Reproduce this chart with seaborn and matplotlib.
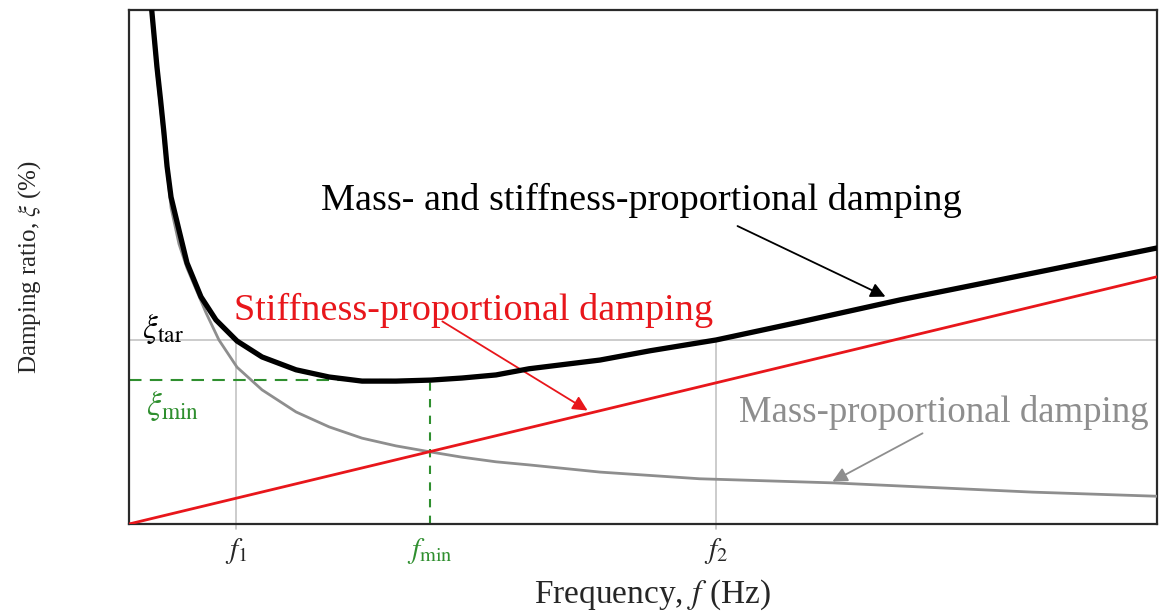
import numpy as np
import pandas as pd
import matplotlib
matplotlib.use("Agg")
import matplotlib.pyplot as plt
import seaborn as sns

# Frequency / damping-ratio samples for each damping component
freq_total = [0.21, 0.221, 0.272, 0.307, 0.340, 0.370, 0.409, 0.486, 0.564, 0.700,
              0.846, 1.051, 1.294, 1.625, 1.946, 2.267, 2.597, 2.938, 3.239, 3.570,
              3.891, 4.582, 5.068, 5.71, 6.527, 7.5, 8.47, 10.0]
xi_total = [10.3, 10.0, 8.89, 8.25, 7.61, 6.96, 6.36, 5.72, 5.08, 4.42,
            3.97, 3.56, 3.25, 3.00, 2.86, 2.78, 2.78, 2.80, 2.84, 2.90,
            3.02, 3.19, 3.37, 3.58, 3.93, 4.36, 4.75, 5.37]

freq_mass = [0.20, 0.221, 0.272, 0.340, 0.409, 0.486, 0.564, 0.613, 0.749, 0.875,
             1.051, 1.294, 1.625, 1.946, 2.267, 2.597, 2.938, 3.239, 3.570, 3.891,
             4.582, 5.55, 6.85, 7.82, 8.79, 10.0]
xi_mass = [10.3, 9.89, 8.76, 7.45, 6.15, 5.45, 4.98, 4.75, 4.11, 3.58,
           3.05, 2.61, 2.18, 1.89, 1.67, 1.52, 1.40, 1.30, 1.21, 1.15,
           1.01, 0.88, 0.80, 0.71, 0.62, 0.54]

freq_stiff = [0.0, 10.0]
xi_stiff = [0.0, 4.81]

# Reference levels
f_1, f_min, f_2 = 1.04, 2.93, 5.71
xi_tar, xi_min = 3.58, 2.80
tick_labels = [r"$f_1$", r"$f_{\rm min}$", r"$f_2$"]

sns.set_theme(style="white")
plt.rcParams["font.family"] = ["Liberation Serif", "DejaVu Serif"]
plt.rcParams["mathtext.fontset"] = "stix"
plt.rcParams["lines.solid_joinstyle"] = "round"

fig = plt.figure(figsize=(11.61, 6.12), dpi=100)
ax = fig.add_axes([129 / 1161, 88 / 612, 1028 / 1161, 514 / 612])

df_total = pd.DataFrame({"f": freq_total, "xi": xi_total})
df_mass = pd.DataFrame({"f": freq_mass, "xi": xi_mass})
df_stiff = pd.DataFrame({"f": freq_stiff, "xi": xi_stiff})

green = "#2f8f2f"
lgray = "#c4c4c4"
mgray = "#8e8e8e"
red = "#e8161b"

# Target and minimum guide lines
ax.axhline(xi_tar, color=lgray, lw=1.2, zorder=1)
ax.plot([f_1, f_1], [-0.1, xi_tar], color=lgray, lw=1.2, zorder=1, clip_on=False)
ax.plot([f_2, f_2], [-0.1, xi_tar], color=lgray, lw=1.2, zorder=1, clip_on=False)
ax.plot([0, f_min], [xi_min, xi_min], color=green, lw=1.5, ls=(0, (6, 4)), zorder=2)
ax.plot([f_min, f_min], [0, xi_min], color=green, lw=1.5, ls=(0, (4, 4)), zorder=2)

sns.lineplot(data=df_mass, x="f", y="xi", color=mgray, lw=2.0, ax=ax, zorder=3)
sns.lineplot(data=df_stiff, x="f", y="xi", color=red, lw=2.0, ax=ax, zorder=4)
sns.lineplot(data=df_total, x="f", y="xi", color="black", lw=3.8, ax=ax, zorder=5)

ax.set_xlim(0, 10)
ax.set_ylim(0, 10)

ax.set_xticks([f_1, f_min, f_2])
ax.set_xticklabels(tick_labels, fontsize=21)
ax.get_xticklabels()[1].set_color(green)
ax.tick_params(axis="x", length=0, pad=9)
ax.set_yticks([])

ax.set_xlabel(r"Frequency, $f$ (Hz)", fontsize=24, labelpad=6)
ax.xaxis.set_label_coords(0.509, -0.105)
ax.set_ylabel(r"Damping ratio, $\xi$ (%)", fontsize=18, labelpad=62)

for s in ax.spines.values():
    s.set_visible(True)
    s.set_color("#2a2a2a")
    s.set_linewidth(1.6)

# Level labels
ax.text(0.13, 3.80, r"$\xi_{\rm tar}$", fontsize=24, color="black", ha="left", va="center")
ax.text(0.17, 2.30, r"$\xi_{\rm min}$", fontsize=24, color=green, ha="left", va="center")

# Curve annotations
ax.text(4.985, 6.30, "Mass- and stiffness-proportional damping", fontsize=27.5,
        color="black", ha="center", va="center")
ax.annotate("", xy=(7.383, 4.40), xytext=(5.895, 5.82),
            arrowprops=dict(arrowstyle="-|>", color="black", lw=1.3, mutation_scale=22))

ax.text(3.356, 4.16, "Stiffness-proportional damping", fontsize=27.5,
        color=red, ha="center", va="center")
ax.annotate("", xy=(4.484, 2.18), xytext=(3.025, 3.97),
            arrowprops=dict(arrowstyle="-|>", color=red, lw=1.3, mutation_scale=22))

ax.text(7.93, 2.16, "Mass-proportional damping", fontsize=26.5,
        color=mgray, ha="center", va="center")
ax.annotate("", xy=(6.819, 0.80), xytext=(7.743, 1.79),
            arrowprops=dict(arrowstyle="-|>", color=mgray, lw=1.3, mutation_scale=22))

fig.savefig("out.png", dpi=100)
